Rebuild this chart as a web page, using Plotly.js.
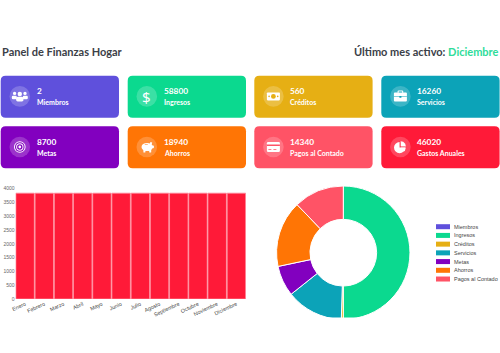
<!DOCTYPE html>
<html><head><meta charset="utf-8">
<script src="https://cdn.plot.ly/plotly-3.0.1.min.js"></script>
<style>html,body{margin:0;padding:0;background:#fff;overflow:hidden}#c{width:500px;height:353px}</style>
</head><body><div id="c"></div>
<script>
const cardLabels = ['Miembros','Ingresos','Créditos','Servicios','Metas','Ahorros','Pagos al Contado','Gastos Anuales'];
const cardValues = [2,58800,560,16260,8700,18940,14340,46020];
const cardColors = ['#5f50dc','#0bd98f','#e6af14','#0ca3b8','#8200bf','#ff7505','#ff5366','#ff1a38'];
const months = ['Enero','Febrero','Marzo','Abril','Mayo','Junio','Julio','Agosto','Septiembre','Octubre','Noviembre','Diciembre'];
const monthlyExpenses = [3835,3835,3835,3835,3835,3835,3835,3835,3835,3835,3835,3835];
const yTicks = [0,500,1000,1500,2000,2500,3000,3500,4000];
const pieLabels = cardLabels.slice(0,7);
const pieValues = cardValues.slice(0,7);
const pieColors = cardColors.slice(0,7);
const titleText = 'Panel de Finanzas Hogar';
const activeLabel = 'Último mes activo: ';
const activeMonth = 'Diciembre';

const W=500,H=353, FONT='Lato, "Noto Sans", sans-serif', ARIAL='"Liberation Sans", Arial, sans-serif';
const px=x=>x/W, py=y=>1-y/H;
const shapes=[], annotations=[];
const base={xref:'paper',yref:'paper',line:{width:0}};
function pathStr(cmds){
  return cmds.map(c=>c[0]+c.slice(1).map((v,i)=>i%2==0?px(v).toFixed(5):py(v).toFixed(5)).join(',')).join(' ');
}
function rrect(x,y,w,h,r,fill){
  shapes.push({...base,type:'path',fillcolor:fill,path:pathStr([['M',x+r,y],['L',x+w-r,y],['Q',x+w,y,x+w,y+r],['L',x+w,y+h-r],['Q',x+w,y+h,x+w-r,y+h],['L',x+r,y+h],['Q',x,y+h,x,y+h-r],['L',x,y+r],['Q',x,y,x+r,y],['Z']])});
}
function circ(cx,cy,r,fill){
  shapes.push({...base,type:'circle',fillcolor:fill,x0:px(cx-r),x1:px(cx+r),y0:py(cy+r),y1:py(cy-r)});
}
function ell(cx,cy,rx,ry,fill){
  shapes.push({...base,type:'circle',fillcolor:fill,x0:px(cx-rx),x1:px(cx+rx),y0:py(cy+ry),y1:py(cy-ry)});
}
function poly(pts,fill){
  const c=pts.map((p,i)=>[i?'L':'M',p[0],p[1]]); c.push(['Z']);
  shapes.push({...base,type:'path',fillcolor:fill,path:pathStr(c)});
}
function text(x,y,t,size,color,anchor,weight,fam){
  annotations.push({xref:'paper',yref:'paper',x:px(x),y:py(y),text:t,showarrow:false,xanchor:anchor||'left',yanchor:'middle',
    borderpad:0,font:{family:fam||FONT,size:size,color:color,weight:weight||400}});
}
const WHITE='#fff';
const icons=[
 (x,y,c)=>{
   circ(x-5.2,y-3,1.7,WHITE);circ(x+5.2,y-3,1.7,WHITE);circ(x,y-2.4,2.2,WHITE);
   rrect(x-8,y-.7,5,3.6,1.3,WHITE);rrect(x+3,y-.7,5,3.6,1.3,WHITE);rrect(x-3.7,y+.3,7.4,4.7,1.6,WHITE);
 },
 (x,y,c)=>{ text(x,y+.2,'$',15,WHITE,'center',400,'"Noto Sans", sans-serif'); },
 (x,y,c)=>{
   rrect(x-6.5,y-4,13,8,.8,WHITE);circ(x,y,2.4,c);circ(x-4.3,y,.8,c);circ(x+4.3,y,.8,c);
 },
 (x,y,c)=>{
   rrect(x-2.8,y-6,5.6,3,1,WHITE);rrect(x-1.8,y-5,3.6,2,.4,c);
   rrect(x-6.5,y-3.8,13,9,1,WHITE);rrect(x-6.5,y,13,.7,0,c);rrect(x-1,y-.3,2,1.6,.3,c);
 },
 (x,y,c)=>{
   circ(x,y,5.8,WHITE);circ(x,y,4.8,c);circ(x,y,3.7,WHITE);circ(x,y,2.7,c);circ(x,y,1.4,WHITE);
 },
 (x,y,c)=>{
   ell(x+.3,y,5.6,4.1,WHITE);rrect(x-3.4,y+2,2,3.4,.5,WHITE);rrect(x+2.4,y+2,2,3.4,.5,WHITE);
   rrect(x+4.5,y-1.4,2.6,2.6,.7,WHITE);poly([[x+3.6,y-5],[x+5.4,y-4.6],[x+4.8,y-2],[x+3,y-3]],WHITE);
   rrect(x-2,y-2.6,3,.7,.2,c);
 },
 (x,y,c)=>{
   rrect(x-6.5,y-5,13,10,1.2,WHITE);rrect(x-6.5,y-2.4,13,1.5,0,c);rrect(x-5,y+2,3,.8,0,c);rrect(x,y+2,3,.8,0,c);
 },
 (x,y,c)=>{
   circ(x-.8,y+.6,5.6,WHITE);
   poly([[x-.8,y+.6],[x-.8,y-6],[x+6,y+.6]],c);
   poly([[x+.2,y-.4],[x+.2,y-5.8],[x+2.8,y-5.2],[x+4.8,y-3.2],[x+5.5,y-.4]],WHITE);
   poly([[x,y+.6],[x+5.5,y+.6],[x+4.4,y+4],[x+3.2,y+4.6]],WHITE);
 }
];
const colX=[.7,127.7,254.3,381.3], rowY=[75.7,126.3], cw=118.3, ch=42;
cardLabels.forEach((lab,i)=>{
  const col=i%4,row=i<4?0:1,x=colX[col],y=rowY[row],c=cardColors[i];
  rrect(x,y,cw,ch,5,c);
  const cx=x+19.1, cy=y+20.7;
  circ(cx,cy,10.3,'rgba(255,255,255,0.2)');
  icons[i](cx,cy,c);
  text(x+34.8,y+15.3,String(cardValues[i]),8.3,'#fff','left',700);
  text(x+34.8,y+26.7,lab,7,'#fff','left',700);
});
text(.5,52,titleText,11,'#3b4047','left',700);
annotations.push({xref:'paper',yref:'paper',x:1,y:py(52),showarrow:false,xanchor:'right',yanchor:'middle',borderpad:0,
  text:activeLabel+'<span style="color:#2fdc9a">'+activeMonth+'</span>',
  font:{family:FONT,size:11,color:'#3b4047',weight:700}});
shapes.push({...base,type:'rect',x0:px(270),x1:px(420),y0:py(322),y1:py(317.5),fillcolor:'#fff',layer:'above'});
pieLabels.forEach((lab,i)=>{
  const y=226.7+i*8.72;
  shapes.push({...base,type:'rect',x0:px(436),x1:px(450),y0:py(y+2.5),y1:py(y-2.5),fillcolor:pieColors[i]});
  text(453,y,lab,5.5,'#444','left',400,ARIAL);
});

const data=[
 {type:'bar',x:months,y:monthlyExpenses,marker:{color:cardColors[7],line:{color:'#ff8a9b',width:.8}},hoverinfo:'x+y',showlegend:false},
 {type:'pie',labels:pieLabels,values:pieValues,hole:.5,sort:false,direction:'clockwise',rotation:0,
  marker:{colors:pieColors,line:{color:'#fff',width:1}},textinfo:'none',showlegend:false,
  domain:{x:[276.6/W,410/W],y:[py(319.4),py(186)]}}
];
const layout={width:W,height:H,margin:{l:0,r:0,t:0,b:0},paper_bgcolor:'#fff',plot_bgcolor:'#fff',showlegend:false,
 bargap:.04,shapes,annotations,
 xaxis:{domain:[15.5/W,246/W],range:[-.5,11.5],type:'category',tickangle:-25,showgrid:false,zeroline:false,showline:false,ticks:'',
   tickfont:{family:ARIAL,size:5.4,color:'#444'},automargin:false,ticklen:0},
 yaxis:{domain:[py(299),py(188.6)],range:[0,4000],tickvals:yTicks,ticktext:yTicks.map(String),showgrid:false,zeroline:false,showline:false,ticks:'',
   tickfont:{family:ARIAL,size:5,color:'#666'},automargin:false}
};
Plotly.newPlot('c',data,layout,{staticPlot:true,displayModeBar:false});
</script></body></html>
